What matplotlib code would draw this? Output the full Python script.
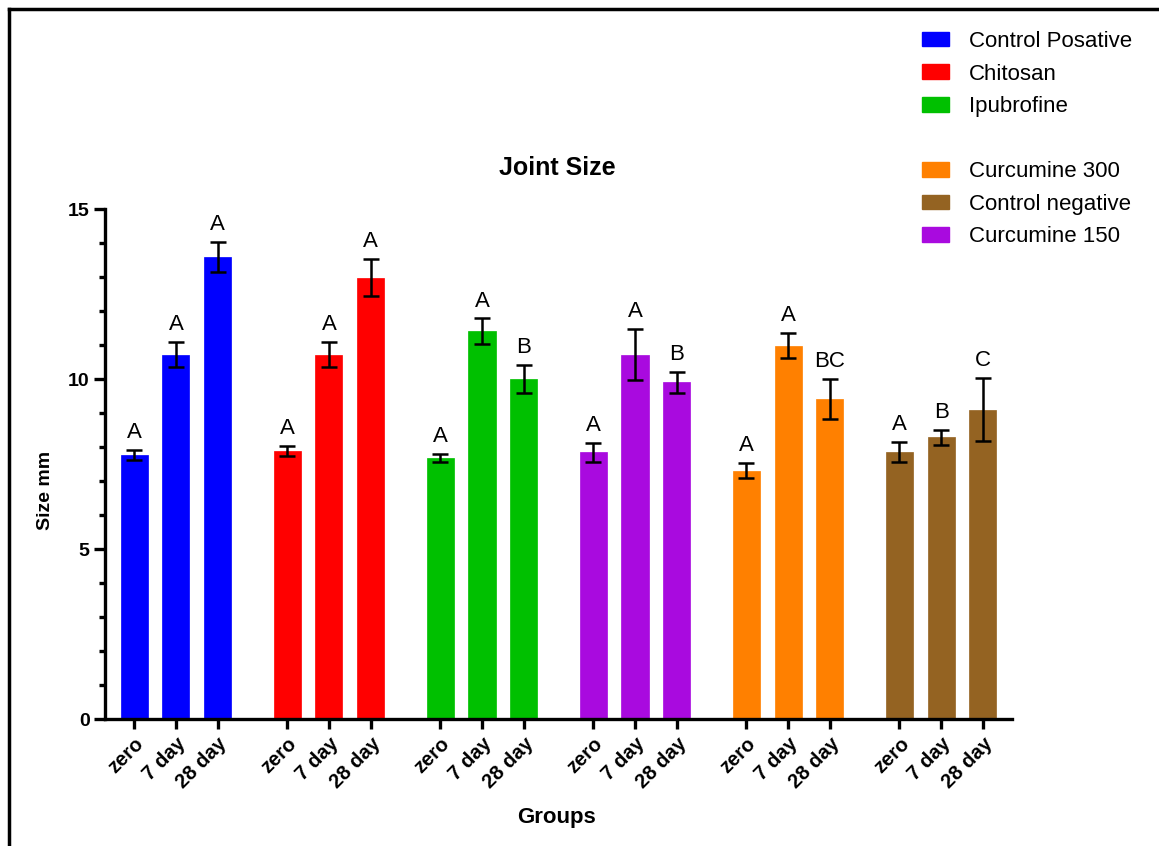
import matplotlib.pyplot as plt
from matplotlib.patches import Patch
from matplotlib.lines import Line2D

plt.rcParams['font.family'] = ['Liberation Sans', 'DejaVu Sans']

# data
groups = ['Control Posative', 'Chitosan', 'Ipubrofine',
          'Curcumine 150', 'Curcumine 300', 'Control negative']
colors = ['#0000FF', '#FF0000', '#00C000', '#A90ADF', '#FF8000', '#946322']
times = ['zero', '7 day', '28 day']

means = [
    [7.77, 10.71, 13.59],
    [7.88, 10.71, 12.98],
    [7.68, 11.41, 10.00],
    [7.85, 10.71, 9.91],
    [7.30, 10.98, 9.41],
    [7.85, 8.28, 9.10],
]
errs = [
    [0.15, 0.37, 0.45],
    [0.15, 0.37, 0.55],
    [0.12, 0.37, 0.42],
    [0.28, 0.75, 0.31],
    [0.22, 0.37, 0.58],
    [0.30, 0.23, 0.92],
]
letters = [
    ['A', 'A', 'A'],
    ['A', 'A', 'A'],
    ['A', 'A', 'B'],
    ['A', 'A', 'B'],
    ['A', 'A', 'BC'],
    ['A', 'B', 'C'],
]

W, H = 1159, 846
fig = plt.figure(figsize=(W / 100, H / 100), dpi=100)
ax = fig.add_axes([105 / W, 1 - 719 / H, (1012 - 105) / W, (719 - 209) / H])

step = 3.67
xpos = []
xlab = []
for g in range(len(groups)):
    xs = [g * step + j for j in range(3)]
    ax.bar(xs, means[g], width=0.65, color=colors[g], edgecolor=colors[g],
           linewidth=0.5, zorder=2)
    ax.errorbar(xs, means[g], yerr=errs[g], fmt='none', ecolor='black',
                elinewidth=1.8, capsize=5.5, capthick=1.8, zorder=3)
    for x, m, e, t in zip(xs, means[g], errs[g], letters[g]):
        ax.annotate(t, (x, m + e), xytext=(0, 5), textcoords='offset points',
                    ha='center', va='bottom', fontsize=16)
    xpos += xs
    xlab += times

ax.set_xlim(-0.7, 21.05)
ax.set_ylim(0, 15)
ax.set_yticks([0, 5, 10, 15])
ax.set_yticks(range(16), minor=True)
ax.set_xticks(xpos)
ax.set_xticklabels(xlab, rotation=45, ha='right', va='top',
                   rotation_mode='anchor', fontsize=14.5, fontweight='bold')
for lb in ax.get_yticklabels():
    lb.set_fontsize(14)
    lb.set_fontweight('bold')

for s in ['top', 'right']:
    ax.spines[s].set_visible(False)
for s in ['left', 'bottom']:
    ax.spines[s].set_linewidth(2.4)
ax.tick_params(axis='y', which='major', length=8, width=2.4, pad=3)
ax.tick_params(axis='y', which='minor', length=4.5, width=2.4)
ax.tick_params(axis='x', which='major', length=7, width=2.4, pad=4)

fig.text(557 / W, 1 - 168 / H, 'Joint Size', ha='center', va='center',
         fontsize=18, fontweight='bold')
fig.text(46 / W, 1 - 490 / H, 'Size mm', ha='center', va='center',
         rotation=90, fontsize=14, fontweight='bold')
fig.text(557 / W, 1 - 817 / H, 'Groups', ha='center', va='center',
         fontsize=16, fontweight='bold')

# legend, with one empty row after the third entry
order = [0, 1, 2, None, 4, 5, 3]
handles = []
for i in order:
    if i is None:
        handles.append(Patch(facecolor='none', edgecolor='none', label=' '))
    else:
        handles.append(Patch(facecolor=colors[i], edgecolor=colors[i], label=groups[i]))
fig.legend(handles=handles, loc='upper left',
           bbox_to_anchor=(922 / W, 1 - 31 / H), frameon=False, fontsize=16,
           borderpad=0, borderaxespad=0, handlelength=1.2, handleheight=0.63,
           handletextpad=0.9, labelspacing=0.52)

# frame on left and top of the picture
fig.add_artist(Line2D([9 / W, 9 / W], [0, 1 - 9 / H], color='black', lw=2.5))
fig.add_artist(Line2D([9 / W, 1], [1 - 9 / H, 1 - 9 / H], color='black', lw=2.5))

fig.savefig('out.png', dpi=100)
